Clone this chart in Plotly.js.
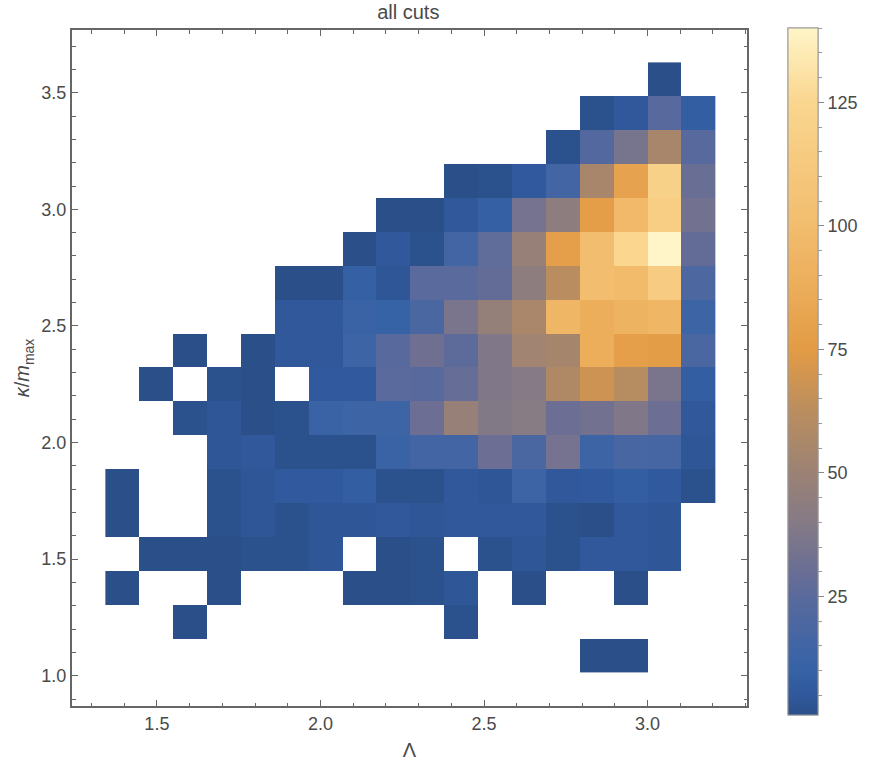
<!DOCTYPE html>
<html>
<head>
<meta charset="utf-8">
<script src="https://cdn.plot.ly/plotly-3.0.1.min.js"></script>
<style>html,body{margin:0;padding:0;background:#fff;}#chart{width:878px;height:772px;}</style>
</head>
<body>
<div id="chart"></div>
<script>
// Bin centres (Λ along x, κ/m_max along y)
var lambdaCenters = [1.394, 1.497, 1.601, 1.705, 1.808, 1.912, 2.015, 2.119, 2.223, 2.326, 2.430, 2.533, 2.637, 2.741, 2.844, 2.948, 3.051, 3.155];
var kappaCenters = [1.085, 1.230, 1.376, 1.521, 1.666, 1.812, 1.957, 2.103, 2.248, 2.393, 2.539, 2.684, 2.830, 2.975, 3.120, 3.266, 3.411, 3.557];

// Counts per bin, one row per kappa bin (bottom row first); null = empty bin
var n = null;
var counts = [
  [n, n, n, n, n, n, n, n, n, n, n, n, n, n, 1, 1, n, n],
  [n, n, 1, n, n, n, n, n, n, n, 2, n, n, n, n, n, n, n],
  [1, n, n, 1, n, n, n, 1, 1, 2, 4, n, 1, n, n, 1, n, n],
  [n, 1, 1, 1, 2, 2, 4, n, 1, 2, n, 2, 4, 2, 5, 5, 4, n],
  [1, n, n, 2, 4, 2, 4, 4, 5, 4, 5, 5, 5, 2, 1, 5, 4, n],
  [1, n, n, 2, 4, 6, 6, 8, 2, 2, 5, 4, 13, 5, 6, 8, 6, 2],
  [n, n, n, 4, 5, 2, 2, 2, 12, 16, 16, 31, 19, 34, 13, 18, 17, 4],
  [n, n, 2, 4, 1, 2, 12, 13, 13, 31, 48, 39, 41, 31, 33, 38, 31, 5],
  [n, 1, n, 2, 1, n, 6, 6, 25, 24, 29, 38, 40, 58, 68, 61, 36, 8],
  [n, n, 1, n, 1, 5, 5, 13, 24, 32, 26, 38, 52, 54, 88, 78, 76, 19],
  [n, n, n, n, n, 5, 5, 12, 10, 19, 36, 47, 56, 94, 88, 92, 94, 13],
  [n, n, n, n, n, 1, 1, 9, 4, 25, 25, 28, 44, 62, 100, 98, 115, 20],
  [n, n, n, n, n, n, n, 1, 5, 2, 16, 27, 48, 78, 100, 125, 140, 28],
  [n, n, n, n, n, n, n, n, 1, 1, 5, 9, 34, 44, 77, 97, 117, 33],
  [n, n, n, n, n, n, n, n, n, n, 1, 2, 6, 16, 55, 80, 120, 30],
  [n, n, n, n, n, n, n, n, n, n, n, n, n, 2, 22, 35, 55, 24],
  [n, n, n, n, n, n, n, n, n, n, n, n, n, n, 2, 5, 24, 8],
  [n, n, n, n, n, n, n, n, n, n, n, n, n, n, n, n, 1, n]
];

var colorbarMajorTicks = [25, 50, 75, 100, 125];
var colorbarMinorTicks = [5, 10, 15, 20, 30, 35, 40, 45, 55, 60, 65, 70, 80, 85, 90, 95, 105, 110, 115, 120, 130, 135, 140];

var densityScale = [
  [0.00, '#2b5089'],
  [0.03, '#30589c'],
  [0.065, '#3662a6'],
  [0.10, '#4165a5'],
  [0.137, '#4d67a0'],
  [0.173, '#5a6a9c'],
  [0.21, '#6a6e94'],
  [0.28, '#857a86'],
  [0.353, '#9c8274'],
  [0.44, '#b98d5f'],
  [0.532, '#e39b45'],
  [0.626, '#ecae5b'],
  [0.712, '#f2bd6e'],
  [0.892, '#fad68f'],
  [1.00, '#fff5c8']
];

var font = 'Liberation Sans, Arial, Helvetica, sans-serif';
var textColor = '#4a4a4a';

var barGeometry = {
  x: 1.0604, xanchor: 'left', xpad: 0,
  y: 0.4946, yanchor: 'middle', ypad: 0,
  thickness: 29.5, thicknessmode: 'pixels',
  len: 687, lenmode: 'pixels',
  outlinewidth: 1, outlinecolor: '#999999'
};

// invisible copy that only supplies the colour bar's minor ticks
var minorTickTrace = {
  type: 'heatmap', x: lambdaCenters, y: kappaCenters, z: counts,
  zmin: 1, zmax: 140, zsmooth: false, colorscale: densityScale,
  opacity: 0, hoverinfo: 'skip',
  colorbar: Object.assign({}, barGeometry, {
    ticks: 'outside', ticklen: 4, tickwidth: 1, tickcolor: '#999999',
    tickmode: 'array', tickvals: colorbarMinorTicks, showticklabels: false
  })
};

var trace = {
  type: 'heatmap',
  x: lambdaCenters,
  y: kappaCenters,
  z: counts,
  zmin: 1,
  zmax: 140,
  zsmooth: false,
  colorscale: densityScale,
  hoverongaps: false,
  colorbar: Object.assign({}, barGeometry, {
    ticks: 'outside', ticklen: 6, tickwidth: 1, tickcolor: '#888888',
    tickmode: 'array', tickvals: colorbarMajorTicks,
    tickfont: {family: font, size: 18, color: textColor}
  })
};

var axisCommon = {
  showgrid: false, zeroline: false,
  showline: true, linecolor: '#666666', linewidth: 2, mirror: 'allticks',
  ticks: 'inside', ticklen: 6, tickwidth: 1, tickcolor: '#666666',
  tick0: 0, dtick: 0.5, tickformat: '.1f',
  minor: {dtick: 0.1, tick0: 0, ticks: 'inside', ticklen: 3.5, tickwidth: 1, tickcolor: '#666666'},
  tickfont: {family: font, size: 18, color: textColor}
};

var layout = {
  width: 878, height: 772,
  margin: {l: 72, r: 130.5, t: 30, b: 66.3, pad: 0},
  paper_bgcolor: '#ffffff', plot_bgcolor: '#ffffff',
  font: {family: font, color: textColor},
  title: {text: 'all cuts', x: 0.465, xanchor: 'center', y: 0.984, yanchor: 'middle',
          font: {family: font, size: 20, color: textColor}},
  xaxis: Object.assign({}, axisCommon, {
    range: [1.2405, 3.304],
    title: {text: 'Λ', standoff: 10, font: {family: font, size: 20, color: textColor}}
  }),
  yaxis: Object.assign({}, axisCommon, {
    range: [0.870, 3.769],
    title: {text: '<i>κ</i>/<i>m</i><sub>max</sub>', standoff: 6, font: {family: font, size: 20, color: textColor}}
  }),
  showlegend: false
};

Plotly.newPlot('chart', [minorTickTrace, trace], layout, {displayModeBar: false, staticPlot: true});
</script>
</body>
</html>
